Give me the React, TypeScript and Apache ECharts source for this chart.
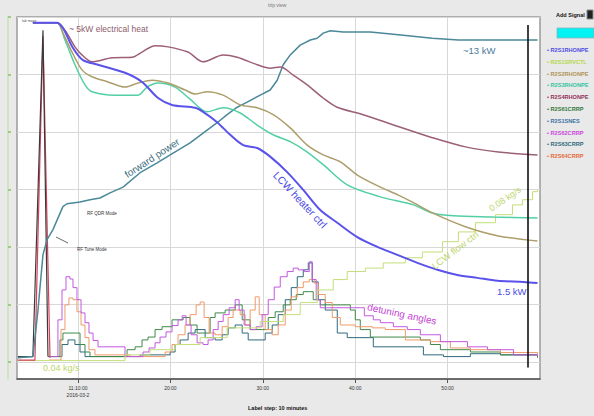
import React, { useEffect, useRef } from 'react';
import * as echarts from 'echarts';

// ---- axes ----
const timeTicks = [10, 20, 30, 40, 50];
const levelTicks = [0, 1, 2, 3, 4, 5, 6];
const cursorTime = 58.65;

// ---- signals (x: minutes after 11:00, y: plot level) ----
const heaterCtrl = [[5.12,5.90],[7.72,5.90],[8.37,5.81],[9.46,5.46],[10.54,5.25],[12.17,5.17],[15.09,5.03],[16.93,4.87],[18.67,4.59],[20.18,4.47],[22.68,4.42],[23.54,4.35],[25.06,4.17],[26.47,3.95],[27.88,3.77],[29.39,3.72],[30.8,3.57],[32.64,3.30],[34.38,2.99],[36.22,2.64],[38.06,2.42],[40.23,2.17],[42.39,2.00],[44.56,1.86],[46.73,1.72],[48.89,1.60],[51.06,1.51],[53.23,1.46],[55.4,1.41],[58.21,1.39],[59.73,1.37]];
const electricHeat = [[5.12,5.90],[7.72,5.90],[8.59,5.77],[9.67,5.48],[10.43,5.34],[11.52,5.22],[13.68,5.29],[15.85,5.30],[16.93,5.39],[18.34,5.50],[19.75,5.48],[21.9,5.39],[23.54,5.22],[25.71,5.34],[27.23,5.30],[29.39,5.17],[30.8,5.11],[31.88,5.13],[33.29,4.99],[34.81,4.82],[36.54,4.59],[38.06,4.43],[40.88,4.30],[44.56,4.10],[48.35,3.90],[51.93,3.74],[55.5,3.65],[59.73,3.6]];
const heater2 = [[5.12,5.90],[7.72,5.90],[8.37,5.72],[9.35,5.39],[10.43,5.08],[11.52,4.96],[13.25,4.87],[15.09,4.78],[16.5,4.85],[18.02,4.90],[19.75,4.85],[21.6,4.73],[22.68,4.66],[23.98,4.70],[25.71,4.64],[27.55,4.47],[29.39,4.42],[31.13,4.30],[32.97,4.07],[34.81,3.77],[36.54,3.6],[38.39,3.48],[40.23,3.25],[42.72,3.04],[44.67,2.90],[46.29,2.77],[48.35,2.59],[51.93,2.35],[55.5,2.19],[59.73,2.10]];
const heater3 = [[5.12,5.90],[7.72,5.90],[8.59,5.6],[9.67,5.17],[10.76,4.82],[11.52,4.70],[14.0,4.64],[16.5,4.64],[17.48,4.78],[18.67,4.85],[20.5,4.78],[22.13,4.57],[23.98,4.35],[25.71,4.42],[27.55,4.33],[29.39,4.12],[31.13,3.95],[32.97,3.83],[34.81,3.65],[36.54,3.43],[39.14,3.08],[42.72,2.87],[46.29,2.73],[48.35,2.59],[50.63,2.54],[54.96,2.52],[59.73,2.50]];
const forwardPower = [[3.50,0.07],[5.12,0.09],[5.67,0.90],[6.21,1.86],[6.64,2.12],[7.29,2.30],[8.37,2.70],[8.81,2.75],[10.22,2.78],[11.30,2.82],[12.38,2.85],[13.47,2.94],[14.88,3.04],[16.72,3.29],[18.56,3.46],[20.29,3.63],[22.13,3.81],[23.54,3.98],[25.06,4.16],[26.14,4.30],[27.23,4.43],[28.31,4.52],[29.72,4.64],[30.80,4.73],[31.56,4.90],[32.21,5.17],[32.97,5.34],[34.05,5.51],[35.14,5.60],[35.89,5.63],[36.54,5.72],[37.30,5.76],[38.71,5.74],[41.64,5.74],[44.67,5.69],[48.35,5.63],[51.17,5.60],[53.77,5.60],[59.73,5.60]];
const flowCtrl = [[3.50,0.02],[13.47,0.02],[15.09,0.12],[17.80,0.21],[20.51,0.30],[23.22,0.42],[26.14,0.59],[29.72,0.70],[32.21,0.82],[34.05,1.03],[35.89,1.25],[37.63,1.43],[39.14,1.57],[41.10,1.63],[43.04,1.72],[45.43,1.81],[47.27,1.91],[49.44,2.09],[51.17,2.26],[53.01,2.42],[55.18,2.56],[57.02,2.73],[58.10,2.82],[59.19,2.96],[59.73,2.99]];
const detune61 = [[6.75,0.09],[7.51,0.09],[8.05,0.38],[8.37,0.50],[9.78,0.50],[10.22,0.30],[10.76,0.17],[11.30,0.09],[14.88,0.09],[15.31,0.21],[16.18,0.26],[16.93,0.38],[17.58,0.43],[18.34,0.56],[19.10,0.61],[20.18,0.73],[21.38,0.77],[22.13,0.64],[22.89,0.50],[23.76,0.50],[24.30,0.77],[24.84,0.85],[25.93,0.90],[27.01,0.99],[27.77,0.73],[28.63,0.56],[29.93,0.56],[30.59,0.77],[31.34,0.87],[32.21,0.99],[32.97,1.08],[33.62,1.17],[34.38,1.22],[35.03,1.22],[35.46,1.08],[36.22,0.99],[38.39,0.99],[39.47,0.90],[40.01,0.73],[40.55,0.56],[41.64,0.43],[44.89,0.43],[47.05,0.38],[48.14,0.30],[49.22,0.21],[52.47,0.17],[55.72,0.12],[59.73,0.07]];
const detune62 = [[6.97,0.09],[7.51,0.09],[7.83,0.73],[8.27,1.25],[8.70,1.48],[9.13,1.44],[9.46,1.29],[9.89,1.08],[10.33,0.85],[10.76,0.68],[11.19,0.50],[11.63,0.37],[12.17,0.26],[14.88,0.26],[15.09,0.09],[16.72,0.09],[17.04,0.17],[17.69,0.24],[18.34,0.33],[18.88,0.43],[19.53,0.52],[20.18,0.63],[20.83,0.73],[21.27,0.80],[21.70,0.64],[22.24,0.47],[22.89,0.33],[23.54,0.30],[24.08,0.38],[24.63,0.56],[25.17,0.70],[25.71,0.82],[26.36,0.94],[27.01,1.08],[27.44,0.90],[27.98,0.64],[28.63,0.56],[29.29,0.61],[29.93,0.82],[30.59,1.08],[31.24,1.30],[31.89,1.48],[32.64,1.57],[33.29,1.63],[33.84,1.60],[34.49,1.57],[35.03,1.74],[35.35,1.43],[35.78,1.08],[36.22,0.94],[40.55,0.94],[40.99,0.80],[41.96,0.73],[42.72,0.68],[44.13,0.61],[45.64,0.56],[47.05,0.47],[49.22,0.35],[52.15,0.26],[54.31,0.21],[57.13,0.12],[59.73,0.10]];
const detune63 = [[6.75,0.09],[7.72,0.09],[8.27,0.30],[8.92,0.38],[9.67,0.30],[10.22,0.17],[10.76,0.09],[16.18,0.09],[16.72,0.12],[18.88,0.12],[19.97,0.17],[20.51,0.30],[21.05,0.38],[21.92,0.50],[22.68,0.56],[23.76,0.42],[24.84,0.38],[25.60,0.47],[26.25,0.59],[27.01,0.64],[27.77,0.50],[28.42,0.38],[29.50,0.38],[30.26,0.50],[31.02,0.64],[31.67,0.82],[32.43,1.08],[33.08,1.29],[33.73,1.48],[34.38,1.60],[34.92,1.72],[35.35,1.39],[36.00,1.08],[36.76,0.90],[38.06,0.50],[39.14,0.42],[41.64,0.42],[41.96,0.26],[46.73,0.26],[47.38,0.12],[49.55,0.09],[52.47,0.14],[55.72,0.12],[59.73,0.14]];
const detune64 = [[6.86,0.03],[7.72,0.03],[8.16,0.56],[8.59,0.99],[9.02,1.11],[9.46,1.08],[9.89,0.87],[10.33,0.64],[10.76,0.42],[11.19,0.21],[11.84,0.12],[15.09,0.12],[15.63,0.09],[18.88,0.09],[19.43,0.17],[20.18,0.30],[20.83,0.47],[21.59,0.64],[22.13,0.82],[22.79,0.99],[23.22,1.04],[23.65,0.77],[24.19,0.50],[24.84,0.47],[25.60,0.61],[26.25,0.77],[26.79,0.90],[27.55,0.82],[28.09,0.64],[28.63,0.90],[29.18,1.13],[29.61,0.82],[30.26,0.56],[31.02,0.47],[31.67,0.64],[32.43,0.90],[33.08,1.13],[33.73,1.29],[34.38,1.39],[35.03,1.43],[35.57,1.37],[36.00,1.17],[36.76,1.03],[37.52,0.77],[38.39,0.64],[40.01,0.61],[41.86,0.59],[43.26,0.56],[45.43,0.38],[48.14,0.35],[50.30,0.24],[52.47,0.21],[55.72,0.16],[59.73,0.12]];
const rfSpikeA = [[3.50,0.09],[5.12,0.09],[6.21,5.77],[6.75,0.09]];
const rfSpikeB = [[3.50,0.03],[5.34,0.03],[6.21,5.67],[6.97,0.07]];

// ---- legend ----
const signalNames = ['R2S1RHONPE', 'R2S1SRVCTL', 'R2S2RHONPE', 'R2S3RHONPE', 'R2S4RHONPE', 'R2S61CRRP', 'R2S1SNES', 'R2S62CRRP', 'R2S63CRRP', 'R2S64CRRP'];
const signalColors = ['#4b4be6', '#b4d84a', '#b09458', '#34c4a0', '#93305a', '#33773a', '#3a72a2', '#cc46dc', '#2f6a7c', '#e46a3a'];

const FONT = '"Liberation Sans", Arial, sans-serif';

function lineSeries(name: string, data: number[][], color: string, width: number, extra: any = {}) {
  return {
    type: 'line', name, data, showSymbol: false, symbol: 'none',
    lineStyle: { color, width }, itemStyle: { color },
    emphasis: { disabled: true }, silent: true, ...extra,
  };
}

function txt(text: string, x: number, y: number, size: number, color: string, opts: any = {}) {
  return {
    type: 'text', x, y, rotation: opts.rotation || 0, silent: true, z: 100,
    style: {
      text, fill: color, fontSize: size, fontFamily: FONT, fontWeight: opts.bold ? 'bold' : 'normal',
      align: opts.align || 'left', verticalAlign: 'middle',
      textAlign: opts.align || 'left', textVerticalAlign: 'middle',
    },
  };
}

export default function App() {
  const ref = useRef<HTMLDivElement>(null);
  useEffect(() => {
    if (!ref.current) return;
    const chart = echarts.init(ref.current, null, { renderer: 'svg' });

    const legendGraphics: any[] = [];
    signalNames.forEach((n, i) => {
      legendGraphics.push(txt('\u2022 ' + n, 547, 50 + i * 11.8, 5.6, signalColors[i], { bold: true }));
    });

    const option: any = {
      animation: false,
      backgroundColor: '#e9e9e9',
      textStyle: { fontFamily: FONT },
      grid: { left: 17, top: 17, right: 54, bottom: 37, show: true, backgroundColor: '#ffffff', borderColor: '#9a9a9a', borderWidth: 1.5 },
      xAxis: {
        type: 'value', min: 3.4, max: 60,
        axisLine: { show: true, onZero: false, lineStyle: { color: '#555', width: 1.5 } },
        axisTick: { show: true, customValues: timeTicks, length: 4, lineStyle: { color: '#555' } },
        axisLabel: {
          customValues: timeTicks, fontSize: 5, color: '#333', lineHeight: 7, margin: 5,
          formatter: (v: number) => (v === 10 ? '11:10:00\n2016-03-2' : `${v}:00`),
        },
        splitLine: { show: true, lineStyle: { color: '#d8d8d8', width: 1 } },
      },
      yAxis: {
        type: 'value', min: -0.3, max: 6, offset: 9,
        axisLine: { show: true, onZero: false, lineStyle: { color: '#c6e4ae', width: 1.5 } },
        axisTick: { show: true, inside: true, length: 3, customValues: levelTicks, lineStyle: { color: '#86c46a', width: 1.5 } },
        axisLabel: { show: false, customValues: levelTicks },
        splitLine: { show: true, lineStyle: { color: '#d8d8d8', width: 1 } },
      },
      series: [
        lineSeries('R2S63CRRP', detune63, '#2f6a7c', 1, { step: 'end' }),
        lineSeries('R2S61CRRP', detune61, '#3f8a48', 1, { step: 'end' }),
        lineSeries('R2S64CRRP', detune64, '#ee9a6a', 1, { step: 'end' }),
        lineSeries('R2S62CRRP', detune62, '#c458e0', 1, { step: 'end' }),
        lineSeries('R2S1SRVCTL', flowCtrl, '#c4de78', 1, { step: 'end' }),
        lineSeries('RF spike B', rfSpikeB, '#d8405e', 1.2),
        lineSeries('RF spike A', rfSpikeA, '#3a3a3a', 1.2),
        lineSeries('R2S1SNES', forwardPower, '#4b8898', 1.5, {
          markLine: {
            silent: true, symbol: ['none', 'none'], label: { show: false },
            lineStyle: { color: '#111', width: 1.6, type: 'solid' },
            data: [[{ coord: [cursorTime, 5.86] }, { coord: [cursorTime, -0.1] }]],
          },
        }),
        lineSeries('R2S3RHONPE', heater3, '#52d0a4', 1.5, { smooth: 0.3 }),
        lineSeries('R2S2RHONPE', heater2, '#ad9e6c', 1.5, { smooth: 0.3 }),
        lineSeries('R2S4RHONPE', electricHeat, '#9c5f78', 1.5, { smooth: 0.3 }),
        lineSeries('R2S1RHONPE', heaterCtrl, '#5a52ea', 2, { smooth: 0.3 }),
      ],
      graphic: [
        // title & panel
        txt('trip view', 268, 5, 5, '#777'),
        txt('lab mage', 22, 21, 3.5, '#555'),
        txt('Add Signal', 556, 15, 5.5, '#111', { bold: true }),
        { type: 'rect', shape: { x: 587, y: 10, width: 6, height: 9 }, style: { fill: '#222', stroke: '#888' }, silent: true },
        { type: 'rect', shape: { x: 557, y: 28, width: 37, height: 10 }, style: { fill: '#00f2f2', stroke: '#8fb0c0', lineWidth: 0.8 }, silent: true },
        ...legendGraphics,
        // annotations
        txt('~ 5kW electrical heat', 69, 29, 8.5, '#8c5d6c'),
        txt('forward power', 152, 158, 10, '#3d7080', { align: 'center', rotation: 0.58 }),
        txt('RF QDR Mode', 87, 213, 4.5, '#333'),
        txt('RF Tune Mode', 77, 249, 4.5, '#333'),
        { type: 'line', shape: { x1: 56, y1: 237, x2: 68, y2: 243 }, style: { stroke: '#444', lineWidth: 0.8 }, silent: true },
        txt('LCW heater ctrl', 300, 200, 10.5, '#4b4be6', { align: 'center', rotation: -0.82 }),
        txt('~13 kW', 463, 50, 9.5, '#4a7a9a'),
        txt('1.5 kW', 497, 291, 9.5, '#4b4be6'),
        txt('LCW flow ctrl', 455, 250, 9.5, '#bcd66a', { align: 'center', rotation: 0.65 }),
        txt('0.08 kg/s', 505, 199, 9, '#bcd66a', { align: 'center', rotation: 0.6 }),
        txt('detuning angles', 402, 314, 10, '#c446d6', { align: 'center', rotation: -0.21 }),
        txt('0.04 kg/s', 43, 368, 9, '#bcd66a'),
        txt('Label step: 10 minutes', 248, 408, 5.5, '#111', { bold: true }),
      ],
    };
    chart.setOption(option);
    return () => chart.dispose();
  }, []);
  return <div ref={ref} style={{ position: 'fixed', left: 0, top: 0, width: 594, height: 416 }} />;
}
